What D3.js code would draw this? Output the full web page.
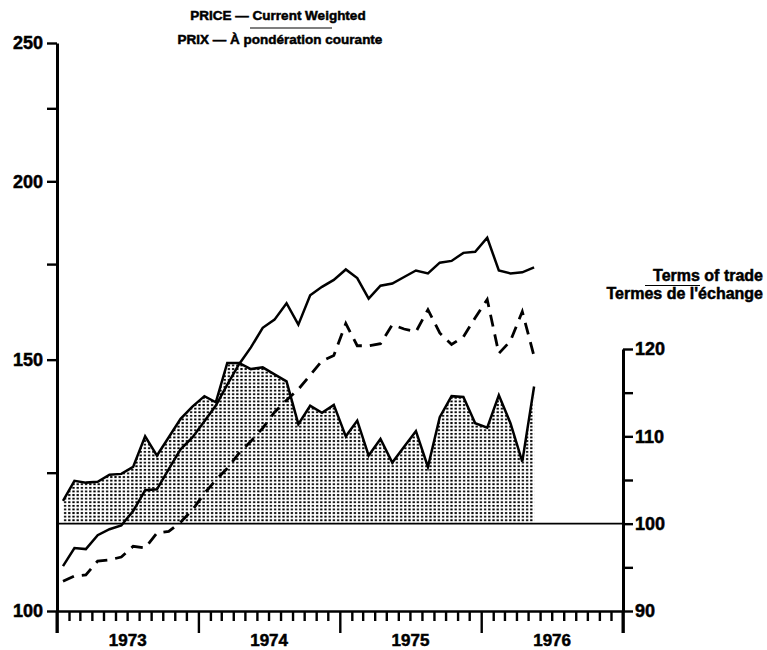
<!DOCTYPE html>
<html>
<head>
<meta charset="utf-8">
<script src="https://cdn.jsdelivr.net/npm/d3@7"></script>
<style>
  body { margin: 0; background: #fff; }
  text { font-family: "Liberation Sans", Arial, Helvetica, sans-serif; font-weight: bold; fill: #000; stroke: #000; stroke-width: 0.5px; }
</style>
</head>
<body>
<svg id="chart" width="767" height="650"></svg>
<script>
// monthly observations, Jan 1973 - May 1976
const months = ["1973-01","1973-02","1973-03","1973-04","1973-05","1973-06","1973-07","1973-08","1973-09","1973-10","1973-11","1973-12",
  "1974-01","1974-02","1974-03","1974-04","1974-05","1974-06","1974-07","1974-08","1974-09","1974-10","1974-11","1974-12",
  "1975-01","1975-02","1975-03","1975-04","1975-05","1975-06","1975-07","1975-08","1975-09","1975-10","1975-11","1975-12",
  "1976-01","1976-02","1976-03","1976-04","1976-05"]

// export prices (solid), left log scale
const exportPrice = [107.5,110.7,110.5,113.0,114.1,114.8,117.5,121.5,121.7,125.7,129.8,132.3,
  135.8,139.3,144.1,148.9,153.0,157.9,160.0,164.3,158.7,166.4,168.7,170.6,
  173.5,171.1,165.5,169.0,169.6,171.4,173.2,172.4,175.4,175.9,178.2,178.5,
  182.6,173.2,172.4,172.7,174.1]

// import prices (dashed), left log scale
const importPrice = [104.9,105.8,106.0,108.4,108.6,109.1,111.0,110.7,113.4,113.7,115.4,117.7,
  120.9,123.5,125.9,129.0,131.5,134.3,137.8,140.5,143.0,146.3,149.7,151.0,
  159.0,153.4,153.4,153.9,158.7,157.6,156.9,162.6,156.6,153.7,155.6,160.5,
  165.3,151.5,154.6,162.1,150.8]

// terms of trade (shaded), right scale
const termsOfTrade = [102.6,104.9,104.7,104.8,105.6,105.7,106.5,110.0,107.8,109.9,112.0,113.4,
  114.6,113.9,118.4,118.4,117.7,117.9,117.1,116.3,111.4,113.5,112.7,113.6,
  110.0,111.8,107.8,109.7,107.0,108.8,110.6,106.5,112.2,114.6,114.5,111.5,
  111.0,114.7,111.5,107.1,115.7]

const leftTicks = [100,125,150,175,200,225,250]
const leftLabels = [100,150,200,250]
const rightTicks = [90,95,100,105,110,115,120]
const rightLabels = [90,100,110,120]
const years = ["1973","1974","1975","1976"]

const parse = d3.timeParse("%Y-%m")
const data = months.map((m,i) => ({date: parse(m), exp: exportPrice[i], imp: importPrice[i], tot: termsOfTrade[i]}))

const svg = d3.select("#chart")

const x = d3.scaleTime()
  .domain([new Date(1973,0,1), new Date(1977,0,1)])
  .range([57, 623])
const xMid = d => (x(d) + x(d3.timeMonth.offset(d,1))) / 2

const yL = d3.scaleLog().domain([100,250]).range([611, 43])
const yR = d3.scaleLinear().domain([90,120]).range([611, 349])

// dot screen for the shaded area
const pat = svg.append("defs").append("pattern")
  .attr("id","dots")
  .attr("patternUnits","userSpaceOnUse")
  .attr("width",4.2).attr("height",3.6)
pat.append("rect").attr("x",1).attr("y",0.9).attr("width",2.2).attr("height",1.9).attr("fill","#000")

// terms of trade area
svg.append("path")
  .datum(data)
  .attr("fill","url(#dots)")
  .attr("d", d3.area().x(d => xMid(d.date)).y0(yR(100)).y1(d => yR(d.tot)))

svg.append("path")
  .datum(data)
  .attr("fill","none").attr("stroke","#000").attr("stroke-width",2.5)
  .attr("d", d3.line().x(d => xMid(d.date)).y(d => yR(d.tot)))

// base line at 100
svg.append("line")
  .attr("x1",x.range()[0]).attr("x2",x.range()[1])
  .attr("y1",yR(100)).attr("y2",yR(100))
  .attr("stroke","#000").attr("stroke-width",1.8)

// price lines
svg.append("path")
  .datum(data)
  .attr("fill","none").attr("stroke","#000").attr("stroke-width",2.5)
  .attr("d", d3.line().x(d => xMid(d.date)).y(d => yL(d.exp)))

svg.append("path")
  .datum(data)
  .attr("fill","none").attr("stroke","#000").attr("stroke-width",2.8)
  .attr("stroke-dasharray","12,8")
  .attr("d", d3.line().x(d => xMid(d.date)).y(d => yL(d.imp)))

// axes
const gL = svg.append("g")
  .attr("transform",`translate(${x.range()[0]},0)`)
  .call(d3.axisLeft(yL).tickValues(leftTicks).tickSize(10).tickSizeOuter(0)
    .tickFormat(d => leftLabels.includes(d) ? d : ""))
gL.selectAll("text").attr("font-size",18).attr("x",-14)

const gR = svg.append("g")
  .attr("transform",`translate(${x.range()[1]},0)`)
  .call(d3.axisRight(yR).tickValues(rightTicks).tickSize(10).tickSizeOuter(0)
    .tickFormat(d => rightLabels.includes(d) ? d : ""))
gR.selectAll("text").attr("font-size",18).attr("x",12)

const gB = svg.append("g")
  .attr("transform",`translate(0,${yL(100)})`)
  .call(d3.axisBottom(x).ticks(d3.timeMonth.every(1)).tickSize(9).tickSizeOuter(0).tickFormat(""))
gB.selectAll(".tick line")
  .attr("y2", d => d.getMonth() === 0 ? 22 : 10)

svg.selectAll(".domain, .tick line").attr("stroke","#000").attr("stroke-width",2.4)
gL.select(".domain").attr("stroke-width",3)
gR.select(".domain").attr("stroke-width",3)

// axis lines run below the baseline
svg.append("line").attr("x1",x.range()[0]).attr("x2",x.range()[0])
  .attr("y1",yL(100)).attr("y2",yL(100)+22).attr("stroke","#000").attr("stroke-width",3)
svg.append("line").attr("x1",x.range()[1]).attr("x2",x.range()[1])
  .attr("y1",yL(100)).attr("y2",yL(100)+22).attr("stroke","#000").attr("stroke-width",3)

svg.append("g").selectAll("text")
  .data(years)
  .join("text")
    .attr("x", d => (x(new Date(+d,0,1)) + x(new Date(+d+1,0,1))) / 2)
    .attr("y", 646)
    .attr("text-anchor","middle")
    .attr("font-size",17)
    .text(d => d)

// titles
const title = svg.append("g").attr("text-anchor","middle").attr("font-size",13.5)
title.append("text").attr("x",278).attr("y",20).text("PRICE — Current Weighted")
title.append("text").attr("x",280).attr("y",44).text("PRIX — À pondération courante")
svg.append("line").attr("x1",250).attr("x2",332).attr("y1",28).attr("y2",28)
  .attr("stroke","#000").attr("stroke-width",1.2)

const rt = svg.append("g").attr("text-anchor","end").attr("font-size",16)
rt.append("text").attr("x",763).attr("y",281).text("Terms of trade")
rt.append("text").attr("x",763).attr("y",299).text("Termes de l'échange")
svg.append("line").attr("x1",645).attr("x2",700).attr("y1",285.5).attr("y2",285.5)
  .attr("stroke","#000").attr("stroke-width",1.2)
</script>
</body>
</html>
